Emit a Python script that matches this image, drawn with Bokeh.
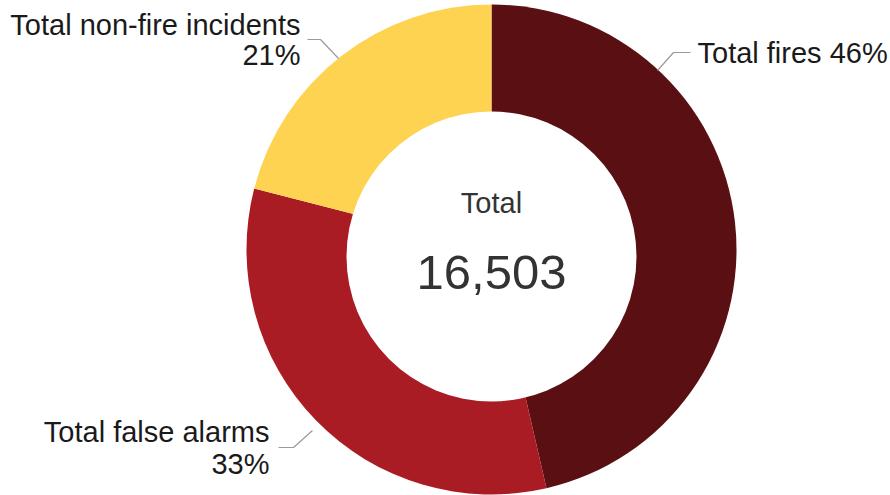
from math import pi
from bokeh.plotting import figure
from bokeh.models import Range1d, ColumnDataSource
from bokeh.core.properties import value
from bokeh.embed import file_html
from bokeh.resources import INLINE

# ---- data ----
categories = ["Total fires", "Total false alarms", "Total non-fire incidents"]
counts = [7657, 5380, 3466]      # incidents
total_incidents = sum(counts)    # 16,503
colors = ["#5a1013", "#aa1c23", "#fed351"]

shares = [round(100 * c / total_incidents) for c in counts]

W, H = 890, 495
CX = 491
CY_OUT = H - 249        # pie centre (data units == px)
CY_IN = H - 256         # hole centre
R_OUT, R_IN = 245, 145

# cumulative angles, clockwise from 12 o'clock
starts, ends = [], []
acc = 0
for c in counts:
    starts.append(pi / 2 - 2 * pi * acc / total_incidents)
    acc += c
    ends.append(pi / 2 - 2 * pi * acc / total_incidents)

src = ColumnDataSource(dict(cat=categories, count=counts, color=colors,
                            start=starts, end=ends))

p = figure(width=W, height=H, output_backend="svg", toolbar_location=None,
           x_range=Range1d(0, W), y_range=Range1d(0, H), min_border=0)
p.axis.visible = False
p.grid.visible = False
p.outline_line_color = None
p.background_fill_color = "white"
p.border_fill_color = "white"

p.wedge(x=CX, y=CY_OUT, radius=R_OUT, start_angle="start", end_angle="end",
        direction="clock", fill_color="color", line_color=None, source=src)
p.scatter(x=[CX], y=[CY_IN], size=2 * R_IN, marker="circle",
          fill_color="white", line_color=None)

font = value("Liberation Sans")


def txt(x, base_px, s, size, align, color):
    # place text so its alphabetic baseline lands at screen row base_px
    p.text(x=[x], y=[H - base_px + 0.36 * size], text=[s], text_font=font,
           text_font_size=f"{size}px", text_align=align,
           text_baseline="alphabetic", text_color=color)


center_col = "#333333"
lab_col = "#1a1a1a"
txt(CX, 213, "Total", 29, "center", center_col)
txt(CX, 290, f"{total_incidents:,}", 49, "center", center_col)

txt(697, 63, f"{categories[0]} {shares[0]}%", 29, "left", lab_col)
txt(300, 35, categories[2], 29, "right", lab_col)
txt(300, 65, f"{shares[2]}%", 29, "right", lab_col)
txt(269, 442, categories[1], 29, "right", lab_col)
txt(269, 474, f"{shares[1]}%", 29, "right", lab_col)

# leader lines
leader_xs = [[657, 673, 690], [307, 320, 338], [278, 293, 312]]
leader_ys = [[H - 70, H - 52, H - 52], [H - 39, H - 39, H - 58],
             [H - 447, H - 447, H - 430]]
p.multi_line(xs=leader_xs, ys=leader_ys, line_color="#9a9a9a", line_width=1.2)

open("out.html", "w").write(file_html(p, INLINE))
